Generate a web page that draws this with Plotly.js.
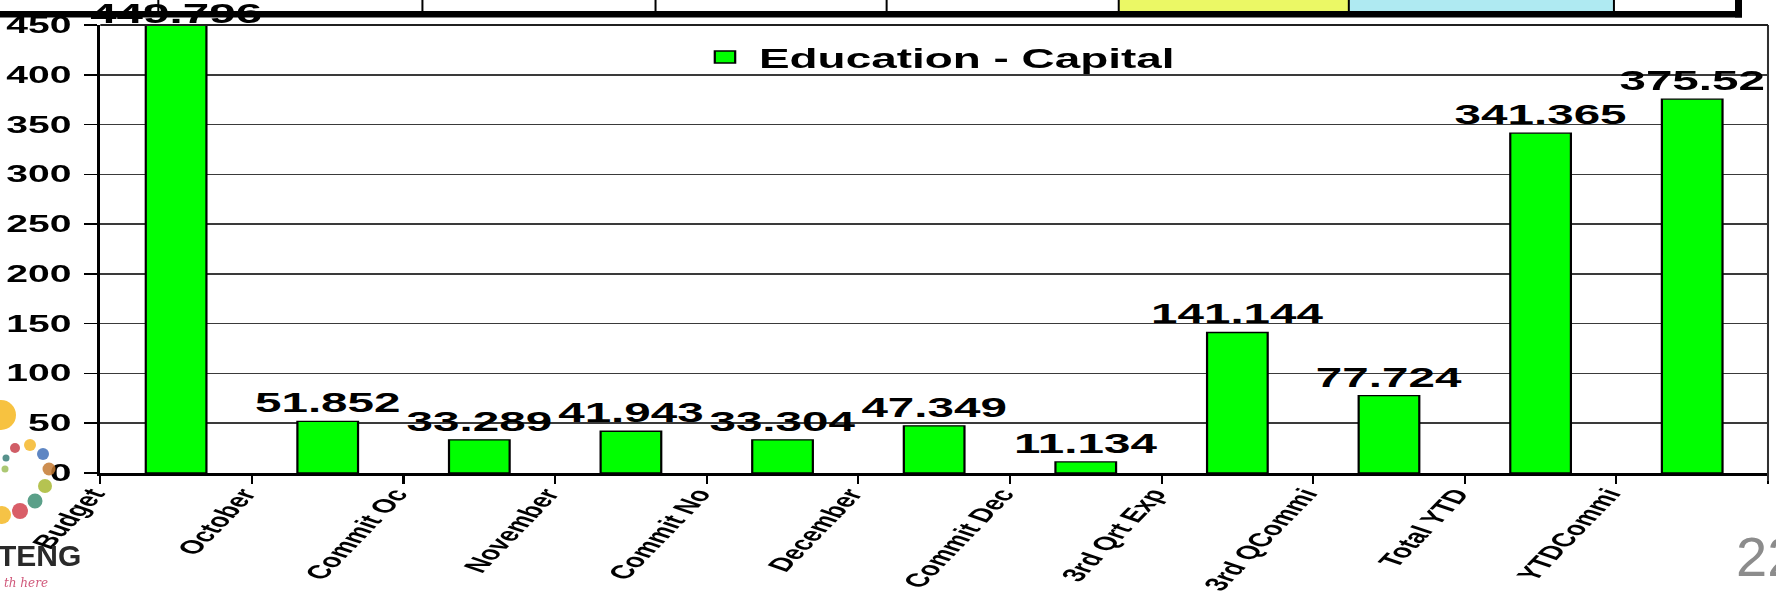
<!DOCTYPE html>
<html>
<head>
<meta charset="utf-8">
<script src="https://cdn.plot.ly/plotly-3.0.1.min.js"></script>
<style>
  html, body { margin: 0; padding: 0; background: #ffffff; }
  #wrap { position: relative; width: 1776px; height: 592px; overflow: hidden; background: #ffffff; }
  #chart { position: absolute; left: 0; top: 0; transform-origin: 0 0; }
  #deco { position: absolute; left: 0; top: 0; width: 1776px; height: 592px; pointer-events: none; }
</style>
</head>
<body>
<div id="wrap">
  <div id="chart"></div>
  <div id="deco"></div>
</div>
<script>
// ---------------- data ----------------
const categories = ["Budget", "October", "Commit Oc", "November", "Commit No", "December",
                    "Commit Dec", "3rd Qrt Exp", "3rd QCommi", "Total YTD", "YTDCommi"];
const values = [449.796, 51.852, 33.289, 41.943, 33.304, 47.349, 11.134, 141.144, 77.724, 341.365, 375.52];
const valueLabels = ["449.796", "51.852", "33.289", "41.943", "33.304", "47.349",
                     "11.134", "141.144", "77.724", "341.365", "375.52"];
const seriesName = "Education - Capital";
const yTickVals = [0, 50, 100, 150, 200, 250, 300, 350, 400, 450];
const pageNumber = "22";
const logoWord = "TENG";
const logoTagline = "th here";

// ---------------- geometry (the embedded chart is horizontally stretched) ----------------
const FULL_W = 1776, FULL_H = 592;
const STRETCH = 1.7;
const W0 = FULL_W / STRETCH;
const L = 100, R = 1767, T = 24.5, B = 473;   // plot area in page pixels
const px = X => (X - L) / (R - L);            // page x -> paper x
const py = Y => (B - Y) / (B - T);            // page y -> paper y

const FONT = "Liberation Sans, Arial, sans-serif";

const chartDiv = document.getElementById('chart');
chartDiv.style.width = W0 + 'px';
chartDiv.style.height = FULL_H + 'px';
chartDiv.style.transform = 'scaleX(' + STRETCH + ')';

// category slots: bars sit in slots, labels sit on the slot's left boundary (as in the source)
const slotIndex = categories.map((c, i) => i);
const boundaryVals = categories.map((c, i) => i - 0.5).concat([categories.length - 0.5]);
const boundaryText = categories.concat(['']);

// the first (tallest) label was pushed inside the chart area in the source, drawn as annotation
const barText = valueLabels.map((t, i) => (i === 0 ? '' : t));

const labelFont = { family: FONT, size: 28, weight: 'bold', color: '#000000' };

// table strip of the slide above the chart (cells below the value label, thick rule above it)
const tableEdges = [0, 158, 422, 655, 886, 1118, 1348, 1613, 1739];
const tableFills = ['#ffffff', '#ffffff', '#ffffff', '#ffffff', '#ffffff', '#EBF865', '#AFEAF2', '#ffffff'];

const chartShapes = [
  { type: 'line', xref: 'paper', yref: 'paper', x0: 1, x1: 1, y0: -0.018, y1: 1,
    line: { color: '#303030', width: 1.2 } },
  { type: 'line', xref: 'paper', yref: 'paper', x0: 0, x1: 1, y0: 1, y1: 1,
    line: { color: '#202020', width: 2 } }
];
for (let i = 0; i < tableFills.length; i++) {
  chartShapes.push({ type: 'rect', xref: 'paper', yref: 'paper', layer: 'below',
    x0: px(tableEdges[i]), x1: px(tableEdges[i + 1]), y0: py(12), y1: py(-2),
    fillcolor: tableFills[i], line: { width: 0 } });
}
for (let i = 1; i < tableEdges.length - 1; i++) {
  chartShapes.push({ type: 'line', xref: 'paper', yref: 'paper', layer: 'below',
    x0: px(tableEdges[i]), x1: px(tableEdges[i]), y0: py(12), y1: py(-2),
    line: { color: '#000000', width: 2 / STRETCH } });
}

const trace = {
  type: 'bar',
  name: seriesName,
  x: slotIndex,
  y: values,
  text: barText,
  textposition: 'outside',
  constraintext: 'none',
  cliponaxis: false,
  textfont: labelFont,
  marker: { color: '#00FF00', line: { color: '#000000', width: 1.3 } },
  width: 0.4,
  hoverinfo: 'none'
};

const layout = {
  width: W0,
  height: FULL_H,
  margin: { l: L / STRETCH, r: (FULL_W - R) / STRETCH, t: T, b: FULL_H - B, pad: 0 },
  paper_bgcolor: 'rgba(0,0,0,0)',
  plot_bgcolor: '#ffffff',
  showlegend: true,
  legend: {
    x: 0.502, xanchor: 'center',
    y: py(57), yanchor: 'middle',
    orientation: 'h',
    bgcolor: 'rgba(0,0,0,0)',
    font: { family: FONT, size: 27, weight: 'bold', color: '#000000' }
  },
  xaxis: {
    range: [-0.5, categories.length - 0.5],
    tickmode: 'array',
    tickvals: boundaryVals,
    ticktext: boundaryText,
    ticks: 'outside', ticklen: 8, tickwidth: 1.2, tickcolor: '#000000',
    showline: true, linecolor: '#000000', linewidth: 2.5,
    showgrid: false, zeroline: false,
    tickangle: -60,
    ticklabelstandoff: -8,
    ticklabelshift: -5,
    tickfont: { family: FONT, size: 19, weight: 'bold', color: '#000000' },
    automargin: false, fixedrange: true
  },
  yaxis: {
    range: [0, 450],
    tickmode: 'array',
    tickvals: yTickVals,
    ticks: 'outside', ticklen: 7.6, tickwidth: 1.5, tickcolor: '#000000',
    showline: true, linecolor: '#000000', linewidth: 1.8,
    showgrid: true, gridcolor: '#3a3a3a', gridwidth: 1.5,
    zeroline: false,
    ticklabelstandoff: 3,
    tickfont: { family: FONT, size: 23, weight: 'bold', color: '#000000' },
    automargin: false, fixedrange: true
  },
  annotations: [
    { xref: 'x', yref: 'y', x: slotIndex[0], y: values[0], text: valueLabels[0],
      xanchor: 'center', yanchor: 'bottom', yshift: -6, showarrow: false, font: labelFont }
  ],
  shapes: chartShapes
};

Plotly.newPlot(chartDiv, [trace], layout, { staticPlot: true, displayModeBar: false });

// ---------------- slide decoration drawn on top (not stretched) ----------------
const logoDots = [
  { x: 1, y: 415, r: 15, c: '#F6B71E' },
  { x: 15, y: 448, r: 5, c: '#C8414B' },
  { x: 30, y: 445, r: 6, c: '#F5B72A' },
  { x: 43, y: 454, r: 6, c: '#4271B8' },
  { x: 6, y: 458, r: 3.5, c: '#3A7F78' },
  { x: 49, y: 469, r: 6.5, c: '#C47A32' },
  { x: 5, y: 469, r: 3.5, c: '#9DBE5A' },
  { x: 45, y: 486, r: 7, c: '#A8B832' },
  { x: 35, y: 501, r: 7.5, c: '#3E8F74' },
  { x: 20, y: 511, r: 8, c: '#D2424E' },
  { x: 2, y: 515, r: 9, c: '#F4B926' }
];

const decoShapes = [];
decoShapes.push({ type: 'rect', xref: 'x', yref: 'y', x0: 0, x1: 1742, y0: 11, y1: 17.5,
  fillcolor: '#000000', line: { width: 0 } });
decoShapes.push({ type: 'rect', xref: 'x', yref: 'y', x0: 1735, x1: 1742, y0: 0, y1: 17.5,
  fillcolor: '#000000', line: { width: 0 } });
logoDots.forEach(d => decoShapes.push({ type: 'circle', xref: 'x', yref: 'y',
  x0: d.x - d.r, x1: d.x + d.r, y0: d.y - d.r, y1: d.y + d.r,
  fillcolor: d.c, line: { width: 0 }, opacity: 0.85 }));

const decoLayout = {
  width: FULL_W, height: FULL_H,
  margin: { l: 0, r: 0, t: 0, b: 0 },
  paper_bgcolor: 'rgba(0,0,0,0)', plot_bgcolor: 'rgba(0,0,0,0)',
  xaxis: { visible: false, range: [0, FULL_W], fixedrange: true },
  yaxis: { visible: false, range: [FULL_H, 0], fixedrange: true },
  showlegend: false,
  shapes: decoShapes,
  annotations: [
    { xref: 'x', yref: 'y', x: 0, y: 555, xanchor: 'left', yanchor: 'middle', xshift: -4,
      showarrow: false, text: logoWord,
      font: { family: FONT, size: 30, weight: 'bold', color: '#2a2a2a' } },
    { xref: 'x', yref: 'y', x: 0, y: 583, xanchor: 'left', yanchor: 'middle', xshift: 2,
      showarrow: false, text: logoTagline,
      font: { family: 'DejaVu Serif, serif', size: 12, style: 'italic', color: '#D0587A' } },
    { xref: 'x', yref: 'y', x: 1734, y: 556, xanchor: 'left', yanchor: 'middle', showarrow: false,
      text: pageNumber, font: { family: FONT, size: 56, color: '#8C8C8C' } }
  ]
};
Plotly.newPlot('deco', [], decoLayout, { staticPlot: true, displayModeBar: false });
</script>
</body>
</html>
